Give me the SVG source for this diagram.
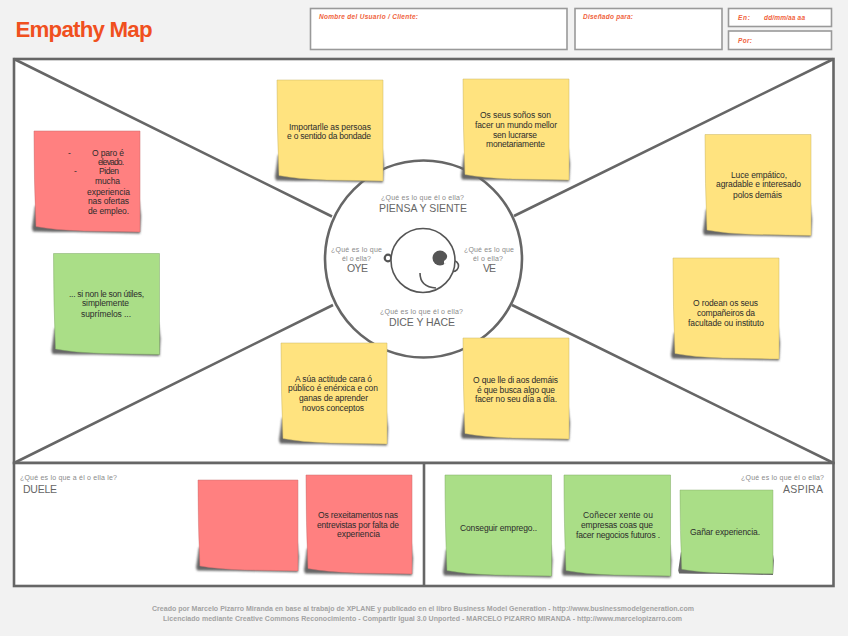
<svg xmlns="http://www.w3.org/2000/svg" width="848" height="636" viewBox="0 0 848 636">
<style>
text{font-family:"Liberation Sans",Arial,sans-serif}
.box{fill:#fff;stroke:#999;stroke-width:1.6}
.frame{fill:#fff;stroke:#666;stroke-width:2.6}
.ln{fill:none;stroke:#666;stroke-width:2.6}
.hd{fill:none;stroke:#555;stroke-width:1.6}
.hl{font-size:6.5px;font-weight:bold;font-style:italic;fill:#f0623c}
.q{font-size:7px;fill:#8a8a8a}
.big{font-size:10.5px;fill:#666}
.t{font-size:8.5px;fill:#2c2c2c}
.ft{font-size:7px;font-weight:bold;fill:#a3a3a3}
.y{fill:#ffe37f;stroke:#c9b565;stroke-width:.5}
.r{fill:#ff8080;stroke:#c86a6a;stroke-width:.5}
.g{fill:#aade87;stroke:#7fa865;stroke-width:.5}
.s{fill:#666;filter:url(#blur)}
</style>
<defs>
<filter id="blur" x="-10%" y="-10%" width="120%" height="120%"><feGaussianBlur stdDeviation="0.9"/></filter>
<path id="shadow" d="M1 75L-2 97L-1 100.500Q20 101 40 101L106 102.500L107 85L105 70Z"/>
<path id="body" d="M0 0H106V101Q80 100.500 50 100Q20 99 2 95.500Q0 50 0 0Z"/>
</defs>
<rect width="848" height="636" fill="#f2f2f2"/>
<g id="title"><text x="15.500" y="37" font-size="22.300" font-weight="bold" fill="#f0501e" textLength="137">Empathy Map</text></g>
<g id="header">
<rect class="box" x="310.500" y="8.500" width="256.500" height="41"/>
<text class="hl" x="319" y="18.500" textLength="99">Nombre del Usuario / Cliente:</text>
<rect class="box" x="575" y="8.500" width="147" height="41"/>
<text class="hl" x="583" y="18.500" textLength="50">Diseñado para:</text>
<rect class="box" x="728.500" y="8.500" width="103" height="18"/>
<text class="hl" x="738" y="20" textLength="12">En:</text>
<text class="hl" x="764" y="20" textLength="41">dd/mm/aa aa</text>
<rect class="box" x="728.500" y="31" width="103" height="18.500"/>
<text class="hl" x="738" y="42.500" textLength="14">Por:</text>
</g>
<rect class="frame" x="14" y="59" width="819.500" height="404"/>
<rect class="frame" x="14" y="463" width="819.500" height="123"/>
<g id="connectors">
<path class="ln" d="M14 59L332 216.500M833.500 59L514 216M14 463L333 305M833.500 463L512 305M424 463V586"/>
</g>
<g id="centre">
<circle cx="423.500" cy="259" r="98.500" fill="#fff" stroke="#666" stroke-width="2.600"/>
<g id="head">
<circle cx="388" cy="258" r="3.300" fill="#fff" stroke="#555" stroke-width="2.200"/>
<path class="hd" d="M453 260.500A5.500 5.500 0 0 1 453 271.500"/>
<circle cx="423" cy="260.500" r="32" fill="#fff" stroke="#555" stroke-width="1.600"/>
<circle cx="440" cy="258" r="7.500" fill="#555"/>
<path d="M444 261Q447 259 448 255L449 262L444 264Z" fill="#fff"/>
<path class="hd" d="M420 273Q420 287 436 288"/>
</g>
<g id="piensa"><text class="q" x="381" y="199.500" textLength="83">¿Qué es lo que él o ella?</text><text class="big" x="379" y="212" textLength="88">PIENSA Y SIENTE</text></g>
<g id="oye"><text class="q" x="331" y="251.500" textLength="51">¿Qué es lo que</text><text class="q" x="342" y="260.500" textLength="29">él o ella?</text><text class="big" x="347" y="272" textLength="21">OYE</text></g>
<g id="ve"><text class="q" x="464" y="251.500" textLength="50">¿Qué es lo que</text><text class="q" x="473" y="260.500" textLength="30">él o ella?</text><text class="big" x="483" y="272" textLength="13">VE</text></g>
<g id="dice"><text class="q" x="380" y="313.500" textLength="83">¿Qué es lo que él o ella?</text><text class="big" x="389" y="325.500" textLength="66">DICE Y HACE</text></g>
</g>
<g id="duele"><text class="q" x="20" y="479.500" textLength="97">¿Qué es lo que a él o ella le?</text><text class="big" x="23" y="492.500" textLength="34">DUELE</text></g>
<g id="aspira"><text class="q" x="741" y="479.500" textLength="83">¿Qué es lo que él o ella?</text><text class="big" x="783" y="492.500" textLength="40">ASPIRA</text></g>
<g id="note-importarlle"><g transform="translate(277 80)"><use href="#shadow" class="s"/><use href="#body" class="y"/></g>
<text class="t" x="289" y="130" textLength="82">Importarlle as persoas</text><text class="t" x="287" y="139" textLength="84">e o sentido da bondade</text></g>
<g id="note-sonos"><g transform="translate(463 79)"><use href="#shadow" class="s"/><use href="#body" class="y"/></g>
<text class="t" x="480" y="118" textLength="71">Os seus soños son</text><text class="t" x="475" y="128" textLength="82">facer un mundo mellor</text><text class="t" x="493" y="138" textLength="44">sen lucrarse</text><text class="t" x="486" y="147" textLength="59">monetariamente</text></g>
<g id="note-paro"><g transform="translate(34 131)"><use href="#shadow" class="s"/><use href="#body" class="r"/></g>
<text class="t" x="68" y="155.500">-</text><text class="t" x="92" y="155.500" textLength="32">O paro é</text><text class="t" x="98" y="165" textLength="26">elevado.</text><text class="t" x="74" y="174">-</text><text class="t" x="99" y="174" textLength="20">Piden</text><text class="t" x="95" y="184" textLength="25">mucha</text><text class="t" x="87" y="195" textLength="43">experiencia</text><text class="t" x="88" y="204" textLength="41">nas ofertas</text><text class="t" x="88" y="214" textLength="41">de empleo.</text></g>
<g id="note-luce"><g transform="translate(705 134.500)"><use href="#shadow" class="s"/><use href="#body" class="y"/></g>
<text class="t" x="731" y="178" textLength="56">Luce empático,</text><text class="t" x="716" y="187" textLength="85">agradable e interesado</text><text class="t" x="733" y="198" textLength="49">polos demáis</text></g>
<g id="note-utiles"><g transform="translate(53.500 253.500)"><use href="#shadow" class="s"/><use href="#body" class="g"/></g>
<text class="t" x="69" y="297" textLength="75">... si non le son útiles,</text><text class="t" x="82" y="306" textLength="47">simplemente</text><text class="t" x="81" y="317" textLength="50">suprímelos ...</text></g>
<g id="note-rodean"><g transform="translate(673 258)"><use href="#shadow" class="s"/><use href="#body" class="y"/></g>
<text class="t" x="693" y="306" textLength="65">O rodean os seus</text><text class="t" x="697" y="316" textLength="58">compañeiros da</text><text class="t" x="688" y="326" textLength="76">facultade ou instituto</text></g>
<g id="note-actitude"><g transform="translate(281 343)"><use href="#shadow" class="s"/><use href="#body" class="y"/></g>
<text class="t" x="295" y="382" textLength="77">A súa actitude cara ó</text><text class="t" x="288" y="391" textLength="90">público é enérxica e con</text><text class="t" x="299" y="401" textLength="69">ganas de aprender</text><text class="t" x="302" y="411" textLength="62">novos conceptos</text></g>
<g id="note-di"><g transform="translate(463 338)"><use href="#shadow" class="s"/><use href="#body" class="y"/></g>
<text class="t" x="473" y="383" textLength="85">O que lle di aos demáis</text><text class="t" x="477" y="392.500" textLength="78">é que busca algo que</text><text class="t" x="475" y="402" textLength="82">facer no seu día a día.</text></g>
<g id="note-blank"><g transform="translate(198 480) scale(.943 .9)"><use href="#shadow" class="s"/><use href="#body" class="r"/></g></g>
<g id="note-rexeitamentos"><g transform="translate(306 475) scale(1 .98)"><use href="#shadow" class="s"/><use href="#body" class="r"/></g>
<text class="t" x="318" y="518" textLength="80">Os rexeitamentos nas</text><text class="t" x="317" y="528" textLength="82">entrevistas por falta de</text><text class="t" x="337" y="537" textLength="43">experiencia</text></g>
<g id="note-emprego"><g transform="translate(445 475) scale(1.005 1)"><use href="#shadow" class="s"/><use href="#body" class="g"/></g>
<text class="t" x="460" y="531" textLength="77">Conseguir emprego..</text></g>
<g id="note-conecer"><g transform="translate(564 475) scale(1.005 1)"><use href="#shadow" class="s"/><use href="#body" class="g"/></g>
<text class="t" x="583" y="518" textLength="70">Coñecer xente ou</text><text class="t" x="581" y="528" textLength="72">empresas coas que</text><text class="t" x="576" y="538" textLength="84">facer negocios futuros .</text></g>
<g id="note-ganar"><g transform="translate(680 490) scale(.877 .83)"><use href="#shadow" class="s"/><use href="#body" class="g"/></g>
<text class="t" x="690" y="535" textLength="70">Gañar experiencia.</text></g>
<g id="footer">
<text class="ft" x="152" y="610.500" textLength="542">Creado por Marcelo Pizarro Miranda en base al trabajo de XPLANE y publicado en el libro Business Model Generation - http://www.businessmodelgeneration.com</text>
<text class="ft" x="163" y="620.500" textLength="519">Licenciado mediante Creative Commons Reconocimiento - Compartir Igual 3.0 Unported - MARCELO PIZARRO MIRANDA - http://www.marcelopizarro.com</text>
</g>
</svg>
